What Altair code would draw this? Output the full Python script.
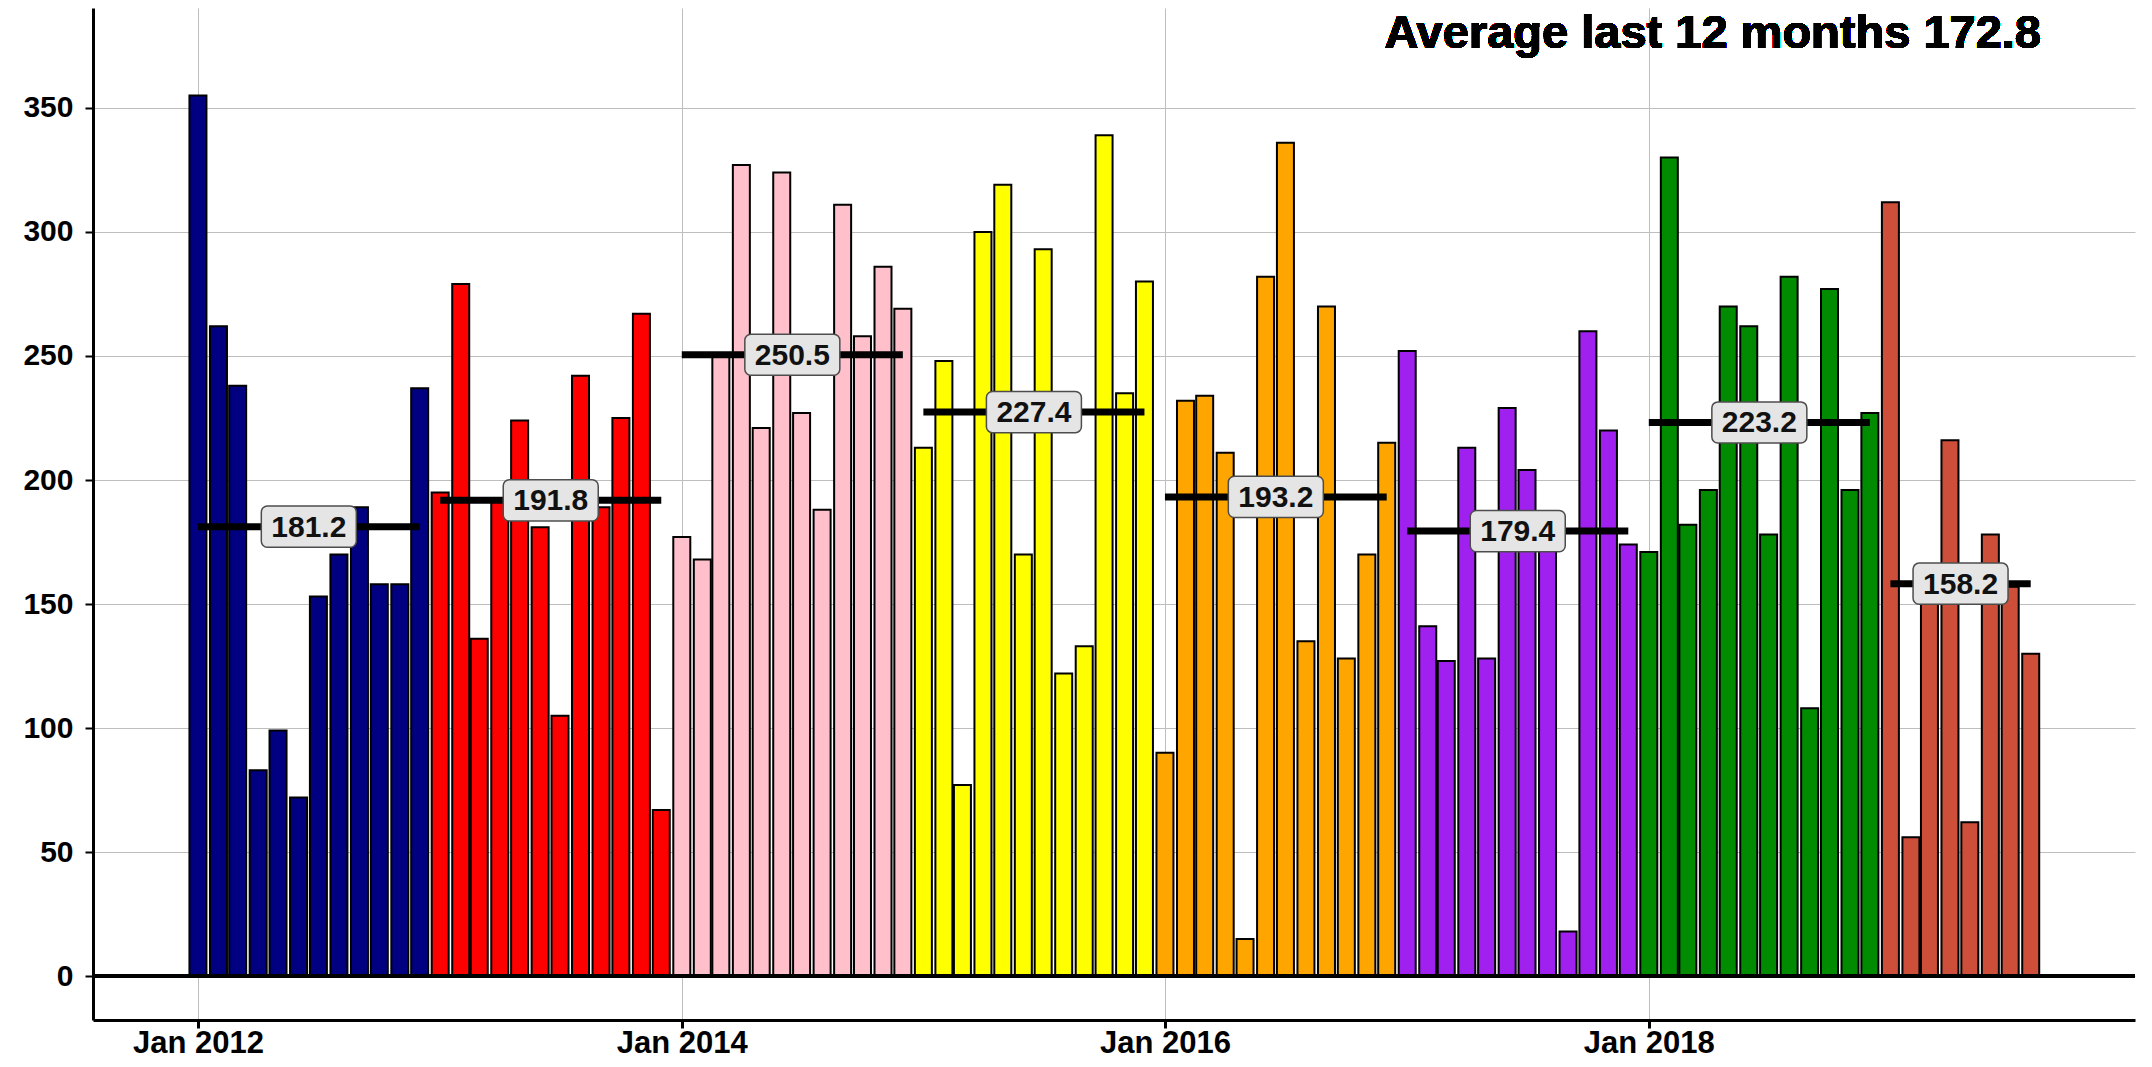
import altair as alt
import pandas as pd

# ---- data ----
years = [2012, 2013, 2014, 2015, 2016, 2017, 2018, 2019]
colors = ["#000080", "#FF0000", "#FFC0CB", "#FFFF00", "#FFA500", "#A020F0", "#008B00", "#CD4F39"]

v2012 = [355, 262, 238, 83, 99, 72, 153, 170, 189, 158, 158, 237]
v2013 = [195, 279, 136, 192, 224, 181, 105, 242, 189, 225, 267, 67]
v2014 = [177, 168, 250, 327, 221, 324, 227, 188, 311, 258, 286, 269]
v2015 = [213, 248, 77, 300, 319, 170, 293, 122, 133, 339, 235, 280]
v2016 = [90, 232, 234, 211, 15, 282, 336, 135, 270, 128, 170, 215]
v2017 = [252, 141, 127, 213, 128, 229, 204, 187, 18, 260, 220, 174]
v2018 = [171, 330, 182, 196, 270, 262, 178, 282, 108, 277, 196, 227]
v2019 = [312, 56, 155, 216, 62, 178, 157, 130]

averages = [181.2, 191.8, 250.5, 227.4, 193.2, 179.4, 223.2, 158.2]
title_text = "Average last 12 months 172.8"
tick_years = [2012, 2014, 2016, 2018]
y_ticks = [0, 50, 100, 150, 200, 250, 300, 350]

series = [v2012, v2013, v2014, v2015, v2016, v2017, v2018, v2019]

rows = []
for yr, vals in zip(years, series):
    for m, v in enumerate(vals):
        rows.append({"date": pd.Timestamp(year=yr, month=m + 1, day=1), "value": v, "year": str(yr)})
bars_df = pd.DataFrame(rows)

avg_rows = []
for yr, vals, a in zip(years, series, averages):
    start = pd.Timestamp(year=yr, month=1, day=1)
    end = pd.Timestamp(year=yr, month=len(vals), day=1)
    mid = start + (end - start) / 2
    avg_rows.append({"start": start, "end": end, "mid": mid, "avg": a})
avg_df = pd.DataFrame(avg_rows)

FONT = "Liberation Sans"
W, H = 2042, 1012

x_scale = alt.Scale(domain=[alt.DateTime(year=2011, month=8, date=3),
                            alt.DateTime(year=2019, month=12, date=29)])
y_scale = alt.Scale(domain=[-17.7, 390.3], nice=False, zero=False)

x_axis = alt.Axis(values=[alt.DateTime(year=y, month=1, date=1) for y in tick_years],
                  format="%b %Y", title=None, grid=True, labelFontSize=31,
                  labelFont=FONT, labelFontWeight="bold", labelColor="black",
                  tickSize=8, tickWidth=3, tickColor="black", labelPadding=0,
                  domainColor="black", domainWidth=3)
y_axis = alt.Axis(values=y_ticks, title=None, grid=True, labelFontSize=30,
                  labelFont=FONT, labelFontWeight="bold", labelColor="black",
                  tickSize=8, tickWidth=2, tickColor="black", labelPadding=12,
                  domainColor="black", domainWidth=3)

base = alt.Chart(bars_df)

bars = base.mark_bar(size=17, stroke="black", strokeWidth=2).encode(
    x=alt.X("date:T", scale=x_scale, axis=x_axis),
    y=alt.Y("value:Q", scale=y_scale, axis=y_axis),
    y2=alt.datum(0),
    color=alt.Color("year:N", scale=alt.Scale(domain=[str(y) for y in years], range=colors), legend=None),
)

zero_line = base.mark_rule(color="black", strokeWidth=4).encode(
    y=alt.datum(0), x=alt.value(0), x2=alt.value(W)
)

avg_base = alt.Chart(avg_df)
avg_rules = avg_base.mark_rule(color="black", strokeWidth=7).encode(
    x=alt.X("start:T"), x2="end:T", y=alt.Y("avg:Q")
)
boxes = avg_base.transform_calculate(
    lo="datum.avg - 8.3", hi="datum.avg + 8.3"
).mark_bar(size=95, cornerRadius=6, fill="#E5E5E5", stroke="#4d4d4d", strokeWidth=1.5).encode(
    x=alt.X("mid:T"), y=alt.Y("lo:Q"), y2="hi:Q"
)
texts = avg_base.mark_text(fontSize=30, font=FONT, fontWeight="bold", color="#111111",
                           baseline="middle", align="center", dy=1).encode(
    x=alt.X("mid:T"), y=alt.Y("avg:Q"), text=alt.Text("avg:Q", format=".1f")
)

title = base.mark_text(fontSize=47, font=FONT, fontWeight="bold", color="black",
                       align="right", baseline="alphabetic").encode(
    x=alt.value(1948), y=alt.value(40), text=alt.value(title_text)
)

chart = alt.layer(bars, zero_line, avg_rules, boxes, texts, title).properties(
    width=W, height=H,
    autosize=alt.AutoSizeParams(type="none"),
    padding={"left": 85, "top": 0, "right": 5, "bottom": 39},
).configure_view(stroke=None).configure_axis(
    gridColor="#BEBEBE", gridWidth=1
)

chart.save("out.html", embed_options={"renderer": "svg", "actions": False})
